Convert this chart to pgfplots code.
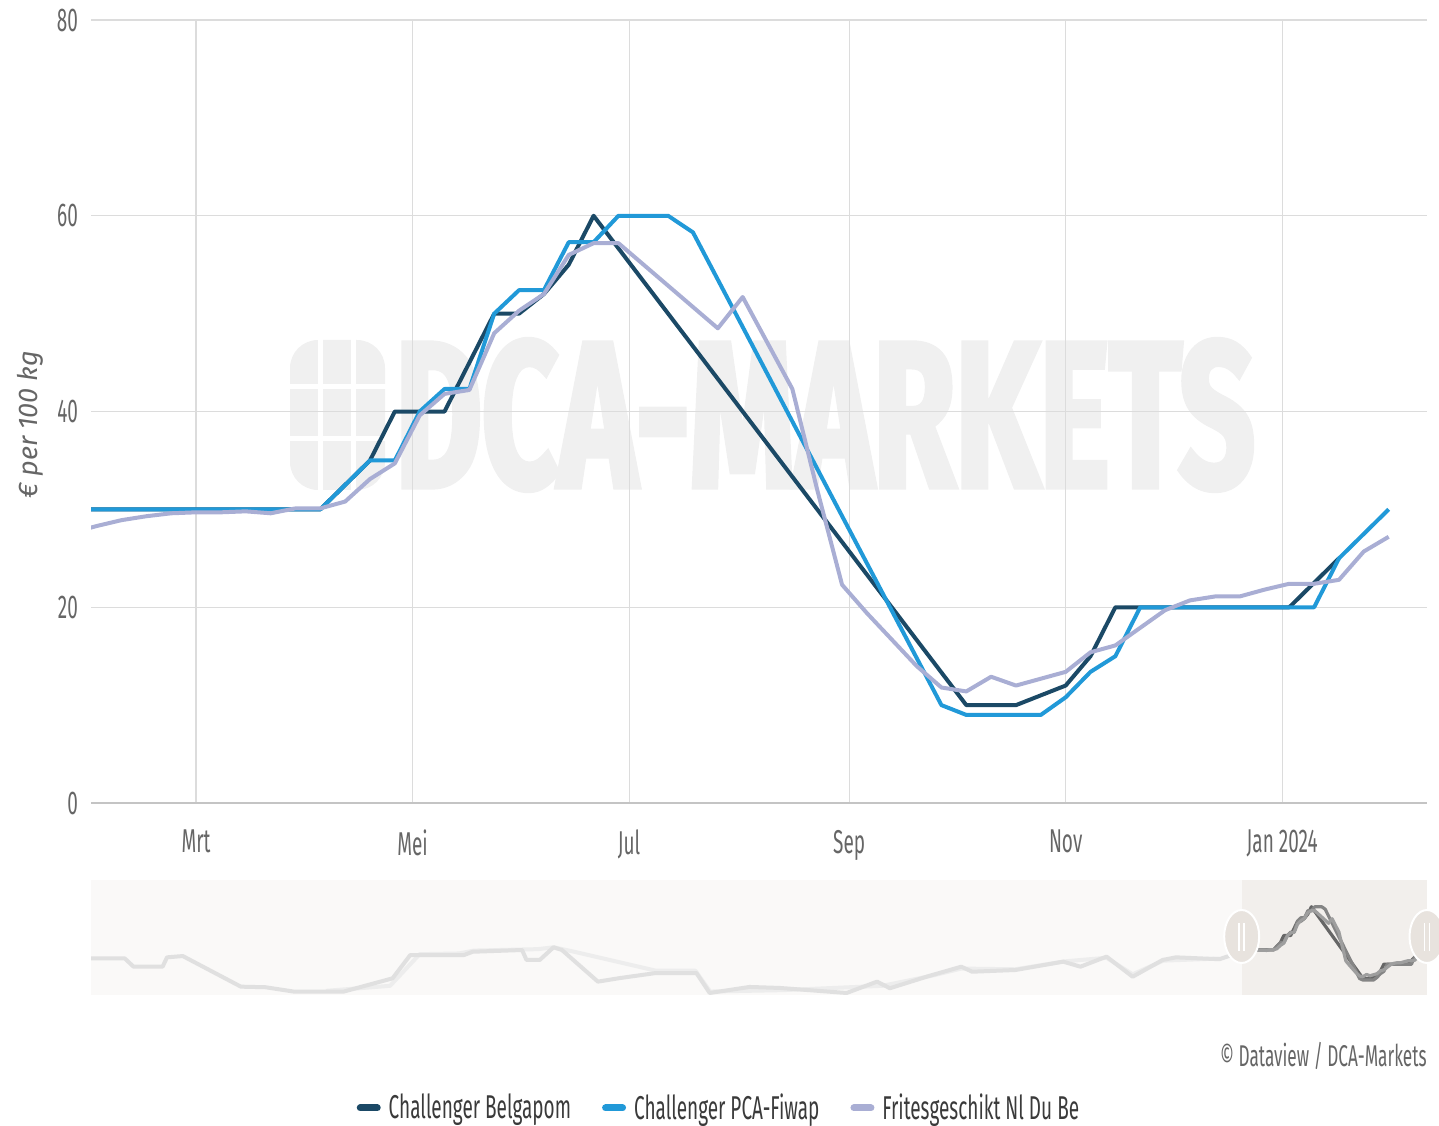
\documentclass[border=0pt]{standalone}
\usepackage{fontspec}
\setmainfont{Fira Sans}[FakeStretch=0.575]
\newfontfamily\ylabfont{Fira Sans}
\newfontfamily\wmfont{Fira Sans}[FakeStretch=0.64, FakeBold=2.5]
\usepackage{pgfplots}
\usepackage{pgfplotstable}
\pgfplotsset{compat=1.18}

\definecolor{belga}{HTML}{1B4966}
\definecolor{fiwap}{HTML}{2199D8}
\definecolor{frites}{HTML}{A9AED4}
\definecolor{gridc}{HTML}{DCDCDC}
\definecolor{axisc}{HTML}{C4C4C4}
\definecolor{tickc}{HTML}{666666}
\definecolor{legc}{HTML}{3A3A3A}
\definecolor{wmark}{HTML}{F0F0F0}
\definecolor{navbg}{HTML}{FAF9F8}
\definecolor{navsel}{HTML}{F2EFEC}
\definecolor{navhandle}{HTML}{E8E3DE}
\definecolor{navA}{HTML}{E0E0E0}
\definecolor{navB}{HTML}{EDEDED}

% x = days since 1 Jan 2023, weekly prices in euro per 100 kg
\pgfplotstableread{
day price
24 30
31 30
38 30
45 30
52 30
59 30
66 30
73 30
80 30
87 30
94 30
101 32.5
108 35
115 40
122 40
129 40
136 45
143 50
150 50
157 52
164 55
171 60
276 10
283 10
290 10
297 11
304 12
311 15
318 20
325 20
332 20
339 20
346 20
353 20
360 20
367 20
374 22.5
381 25
}\belgapom

\pgfplotstableread{
day price
24 30
31 30
38 30
45 30
52 30
59 30
66 30
73 30
80 30
87 30
94 30
101 32.5
108 35
115 35
122 40
129 42.3
136 42.3
143 50
150 52.4
157 52.4
164 57.3
171 57.3
178 60
185 60
192 60
199 58.3
269 10
276 9
283 9
290 9
297 9
304 10.8
311 13.4
318 15
325 20
332 20
339 20
346 20
353 20
360 20
367 20
374 20
381 25
388 27.5
395 30
}\fiwap

\pgfplotstableread{
day price
24 27.6
31 28.3
38 28.9
45 29.3
52 29.6
59 29.7
66 29.7
73 29.8
80 29.6
87 30.1
94 30.1
101 30.8
108 33.1
115 34.7
122 39.6
129 41.8
136 42.2
143 48
150 50.3
157 52
164 56
171 57.2
178 57.2
206 48.5
213 51.7
220 47
227 42.3
234 32
241 22.3
248 19.4
255 16.7
262 14
269 11.8
276 11.4
283 12.9
290 12
297 12.7
304 13.4
311 15.4
318 16.1
325 17.9
332 19.7
339 20.7
346 21.1
353 21.1
360 21.8
367 22.4
374 22.4
381 22.8
388 25.7
395 27.2
}\frites

% navigator history (long range)
\pgfplotstableread{
day price
-2307 24.1
-2239 24.1
-2221 18.3
-2162 18.3
-2153 24.8
-2121 25.7
-2003 4.4
-1953 4.0
-1894 0.9
-1795 0.9
-1695 10.2
-1659 26.4
-1550 26.4
-1532 28.7
-1432 29.9
-1423 23
-1396 23
-1368 31.8
-1351 29.9
-1278 7.9
-1233 10.4
-1160 13.9
-1078 13.9
-1051 0
-970 4.2
-908 3.5
-773 0
-711 7.9
-685 3.3
-606 11.8
-540 18.3
-518 14.8
-430 16
-333 21.8
-298 18.3
-245 25.3
-192 11.3
-131 23
-104 24.8
-16 23.5
24 28
}\hista

\pgfplotstableread{
day price
-1830 1.5
-1700 5
-1640 27
-1560 27.5
-1530 29.5
-1400 30.5
-1368 31.8
-1330 29
-1160 15.5
-1080 15.5
-1050 1
-900 2
-700 5
-600 12
-540 17
-430 16.5
-330 22
-245 24.5
-192 13
-130 22.5
-16 24
}\histb

\begin{document}
\begin{tikzpicture}
\path[use as bounding box] (0,0) rectangle (719.5pt,562.5pt);

% watermark
\begin{scope}
\fill[wmark, rounded corners=14pt] (145pt,317.5pt) rectangle (192.5pt,392.5pt);
\fill[white] (158.8pt,317pt) rectangle (161.3pt,393pt);
\fill[white] (175.4pt,317pt) rectangle (177.9pt,393pt);
\fill[white] (144pt,342.2pt) rectangle (193pt,344.7pt);
\fill[white] (144pt,368pt) rectangle (193pt,370.5pt);
\node[text=wmark, font=\wmfont\fontsize{104}{104}\selectfont\bfseries, anchor=center, inner sep=0pt] at (412.5pt,355pt) {DCA-MARKETS};
\end{scope}

\begin{axis}[
  at={(45.5pt,161pt)}, anchor=south west,
  width=668pt, height=391.5pt, scale only axis,
  xmin=29.4, xmax=405.8, ymin=0, ymax=80,
  xtick={59,120,181,243,304,365},
  xticklabels={Mrt,Mei,Jul,Sep,Nov,Jan 2024},
  ytick={0,20,40,60,80},
  grid=major, grid style={gridc, line width=0.6pt},
  axis x line*=bottom, axis y line*=left,
  x axis line style={axisc, line width=1pt, -},
  y axis line style={draw=none},
  major tick length=0pt,
  tick label style={font=\fontsize{16.5}{19}\selectfont, text=tickc},
  /pgf/number format/assume math mode=true,
  xticklabel style={yshift=-10pt},
  yticklabel style={xshift=-3pt},
  ylabel={\ylabfont\itshape\fontsize{13.5}{15}\selectfont € per 100 kg},
  every axis y label/.style={at={(axis description cs:-0.0457,0.483)}, rotate=90, anchor=center, text=tickc},
  legend columns=3,
  legend style={at={(0.4704,-0.3895)}, anchor=center, draw=none, fill=none,
    font=\fontsize{16.5}{19}\selectfont, text=legc,
    /tikz/every odd column/.append style={column sep=2.5pt},
    /tikz/every even column/.append style={column sep=14pt},
    nodes={inner sep=1.5pt}},
  legend image code/.code={\draw[#1, line width=3.5pt, line cap=round] (0pt,0pt) -- (8.5pt,0pt);},
]
\addplot[no markers, color=belga, line width=2pt, line join=round] table[x=day, y=price] {\belgapom};
\addlegendentry{Challenger Belgapom}
\addplot[no markers, color=fiwap, line width=2pt, line join=round] table[x=day, y=price] {\fiwap};
\addlegendentry{Challenger PCA-Fiwap}
\addplot[no markers, color=frites, line width=2pt, line join=round] table[x=day, y=price] {\frites};
\addlegendentry{Fritesgeschikt Nl Du Be}
\end{axis}

% navigator
\begin{axis}[
  at={(45.5pt,65pt)}, anchor=south west,
  width=668pt, height=57.5pt, scale only axis,
  xmin=-2307.4, xmax=405.8, ymin=-1.4, ymax=78.6,
  hide axis, clip=false,
]
\fill[navbg] (axis cs:-2307.4,-1.4) rectangle (axis cs:29.4,78.6);
\fill[navsel] (axis cs:29.4,-1.4) rectangle (axis cs:405.8,78.6);
\addplot[no markers, color=navB, line width=2pt, line join=round] table[x=day, y=price] {\histb};
\addplot[no markers, color=navA, line width=2pt, line join=round] table[x=day, y=price] {\hista};
\addplot[no markers, color=black!60, line width=1.6pt, line join=round] table[x=day, y=price] {\belgapom};
\addplot[no markers, color=black!48, line width=1.6pt, line join=round] table[x=day, y=price] {\fiwap};
\addplot[no markers, color=black!38, line width=1.6pt, line join=round] table[x=day, y=price] {\frites};
\filldraw[fill=navhandle, draw=white, line width=1pt] (axis cs:29.4,39.3) ellipse [x radius=8.75pt, y radius=13.25pt];
\filldraw[fill=navhandle, draw=white, line width=1pt] (axis cs:405.8,39.3) ellipse [x radius=8.75pt, y radius=13.25pt];
\draw[white, line width=0.8pt] ([xshift=-1.3pt,yshift=-7pt]axis cs:29.4,39.3) -- ([xshift=-1.3pt,yshift=7pt]axis cs:29.4,39.3);
\draw[white, line width=0.8pt] ([xshift=1.3pt,yshift=-7pt]axis cs:29.4,39.3) -- ([xshift=1.3pt,yshift=7pt]axis cs:29.4,39.3);
\draw[white, line width=0.8pt] ([xshift=-1.3pt,yshift=-7pt]axis cs:405.8,39.3) -- ([xshift=-1.3pt,yshift=7pt]axis cs:405.8,39.3);
\draw[white, line width=0.8pt] ([xshift=1.3pt,yshift=-7pt]axis cs:405.8,39.3) -- ([xshift=1.3pt,yshift=7pt]axis cs:405.8,39.3);
\end{axis}

\node[anchor=base east, text=tickc, font=\fontsize{15}{17}\selectfont, inner sep=0pt] at (713.5pt,29.5pt) {© Dataview / DCA-Markets};
\end{tikzpicture}
\end{document}
